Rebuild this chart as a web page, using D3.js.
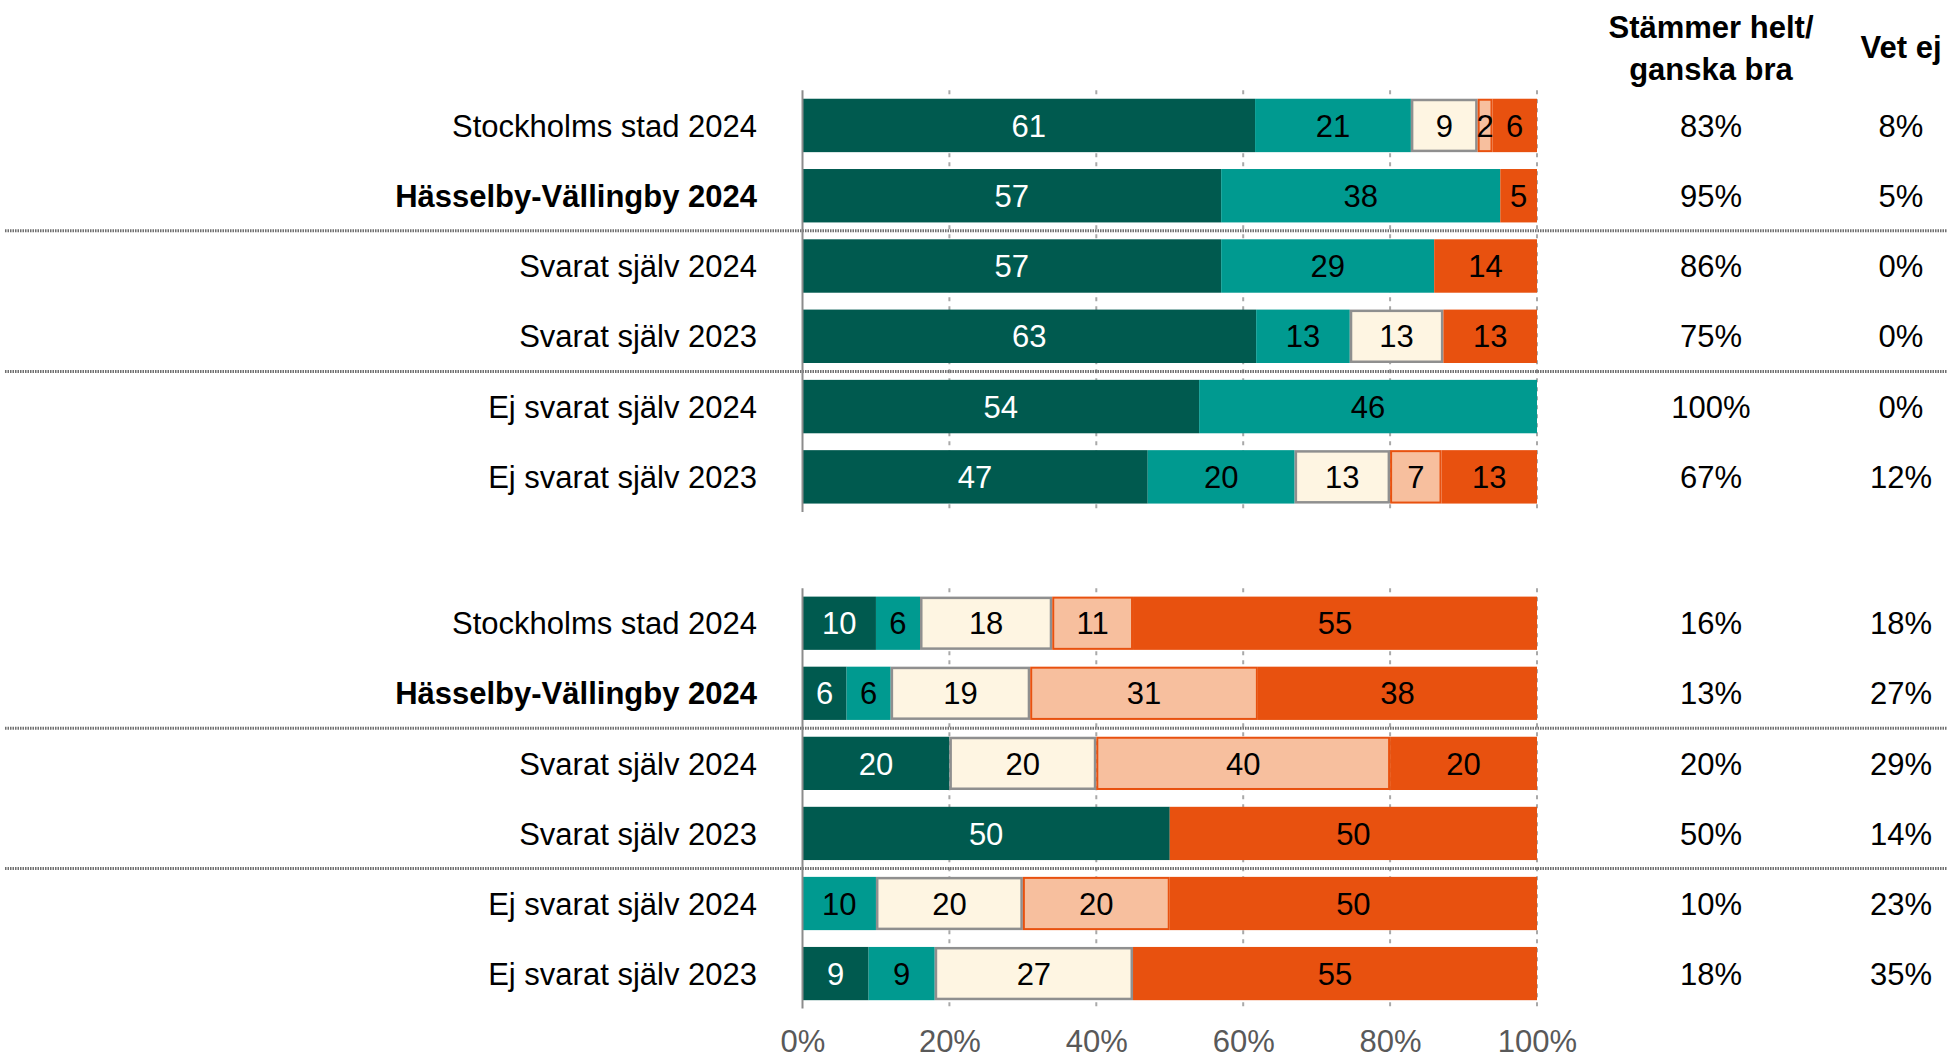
<!DOCTYPE html>
<html>
<head>
<meta charset="utf-8">
<script src="https://cdn.jsdelivr.net/npm/d3@7"></script>
<style>
  html, body { margin: 0; padding: 0; background: #ffffff; }
  svg { display: block; font-family: "Liberation Sans", Arial, sans-serif; }
</style>
</head>
<body>
<svg id="chart" width="1947" height="1061"></svg>
<script>
// Row labels (same for both question blocks)
const rowLabels = [
  "Stockholms stad 2024",
  "Hässelby-Vällingby 2024",
  "Svarat själv 2024",
  "Svarat själv 2023",
  "Ej svarat själv 2024",
  "Ej svarat själv 2023"
];
const boldRow = "Hässelby-Vällingby 2024";

// Answer categories, from most positive to most negative
const answerKeys = ["heltBra", "ganskaBra", "varken", "ganskaDaligt", "heltDaligt"];

// Block 1 values (percent)
const top_heltBra      = [61, 57, 57, 63, 54, 47];
const top_ganskaBra    = [21, 38, 29, 13, 46, 20];
const top_varken       = [9, 0, 0, 13, 0, 13];
const top_ganskaDaligt = [2, 0, 0, 0, 0, 7];
const top_heltDaligt   = [6, 5, 14, 13, 0, 13];
const top_agree        = ["83%", "95%", "86%", "75%", "100%", "67%"];
const top_dontKnow     = ["8%", "5%", "0%", "0%", "0%", "12%"];

// Block 2 values (percent)
const bot_heltBra      = [10, 6, 20, 50, 0, 9];
const bot_ganskaBra    = [6, 6, 0, 0, 10, 9];
const bot_varken       = [18, 19, 20, 0, 20, 27];
const bot_ganskaDaligt = [11, 31, 40, 0, 20, 0];
const bot_heltDaligt   = [55, 38, 20, 50, 50, 55];
const bot_agree        = ["16%", "13%", "20%", "50%", "10%", "18%"];
const bot_dontKnow     = ["18%", "27%", "29%", "14%", "23%", "35%"];

// Axis ticks
const tickValues = [0, 0.2, 0.4, 0.6, 0.8, 1];

// Colours per answer category
const fillColor = {
  heltBra: "#005a4f",
  ganskaBra: "#009a90",
  varken: "#fef5e2",
  ganskaDaligt: "#f7bf9e",
  heltDaligt: "#e8510f"
};
const strokeColor = {
  varken: "#8f8f8f",
  ganskaDaligt: "#e8510f"
};
const labelColor = {
  heltBra: "#ffffff",
  ganskaBra: "#000000",
  varken: "#000000",
  ganskaDaligt: "#000000",
  heltDaligt: "#000000"
};

function buildRows(h, g, v, gd, hd) {
  return rowLabels.map((label, i) => ({
    label,
    heltBra: h[i], ganskaBra: g[i], varken: v[i], ganskaDaligt: gd[i], heltDaligt: hd[i]
  }));
}

const blocks = [
  {
    rows: buildRows(top_heltBra, top_ganskaBra, top_varken, top_ganskaDaligt, top_heltDaligt),
    agree: top_agree, dontKnow: top_dontKnow,
    range: [90.3, 512.0]
  },
  {
    rows: buildRows(bot_heltBra, bot_ganskaBra, bot_varken, bot_ganskaDaligt, bot_heltDaligt),
    agree: bot_agree, dontKnow: bot_dontKnow,
    range: [588.2, 1008.6]
  }
];

const svg = d3.select("#chart");
const FONT = 31;

const x = d3.scaleLinear().domain([0, 1]).range([802.5, 1537]);

const stack = d3.stack().keys(answerKeys).offset(d3.stackOffsetExpand);

const colAgreeX = 1711;
const colDontKnowX = 1901;
const labelRightX = 757;

blocks.forEach((block, bi) => {
  const y = d3.scaleBand()
    .domain(rowLabels)
    .range(block.range)
    .paddingInner(0.24)
    .paddingOuter(0.12);

  const g = svg.append("g");

  // Dashed vertical gridlines
  g.append("g")
    .selectAll("line")
    .data(tickValues.slice(1))
    .join("line")
    .attr("x1", d => x(d)).attr("x2", d => x(d))
    .attr("y1", block.range[0]).attr("y2", block.range[1])
    .attr("stroke", "#a9a9a9")
    .attr("stroke-width", 2)
    .attr("stroke-dasharray", "4,5");

  // Group separators (dotted, across the full width)
  [1, 3].forEach(i => {
    const yy = (y(rowLabels[i]) + y.bandwidth() + y(rowLabels[i + 1])) / 2;
    g.append("line")
      .attr("x1", 5).attr("x2", 1947)
      .attr("y1", yy).attr("y2", yy)
      .attr("stroke", "#6f6f6f")
      .attr("stroke-width", 3)
      .attr("stroke-dasharray", "1.5,1");
  });

  const series = stack(block.rows);

  // Stacked bar segments
  const layer = g.append("g")
    .selectAll("g")
    .data(series)
    .join("g");

  layer.selectAll("rect")
    .data(s => s.map(d => ({ key: s.key, d })).filter(o => o.d.data[o.key] > 0))
    .join("rect")
    .each(function (o) {
      const sw = o.key === "varken" ? 2.5 : (o.key === "ganskaDaligt" ? 2 : 0);
      const x0 = x(o.d[0]), x1 = x(o.d[1]);
      d3.select(this)
        .attr("x", x0 + sw / 2)
        .attr("y", y(o.d.data.label) + sw / 2)
        .attr("width", Math.max(0, x1 - x0 - sw))
        .attr("height", y.bandwidth() - sw)
        .attr("fill", fillColor[o.key])
        .attr("stroke", sw ? strokeColor[o.key] : "none")
        .attr("stroke-width", sw);
    });

  // Segment value labels
  layer.selectAll("text")
    .data(s => s.map(d => ({ key: s.key, d })).filter(o => o.d.data[o.key] > 0))
    .join("text")
    .attr("x", o => (x(o.d[0]) + x(o.d[1])) / 2)
    .attr("y", o => y(o.d.data.label) + y.bandwidth() / 2)
    .attr("dy", "0.36em")
    .attr("text-anchor", "middle")
    .attr("font-size", FONT)
    .attr("fill", o => labelColor[o.key])
    .text(o => o.d.data[o.key]);

  // Left axis line
  g.append("line")
    .attr("x1", x(0)).attr("x2", x(0))
    .attr("y1", block.range[0]).attr("y2", block.range[1])
    .attr("stroke", "#8c8c8c")
    .attr("stroke-width", 2);

  // Row labels
  g.append("g")
    .selectAll("text")
    .data(rowLabels)
    .join("text")
    .attr("x", labelRightX)
    .attr("y", d => y(d) + y.bandwidth() / 2)
    .attr("dy", "0.36em")
    .attr("text-anchor", "end")
    .attr("font-size", FONT)
    .attr("font-weight", d => d === boldRow ? "bold" : "normal")
    .attr("fill", "#000")
    .text(d => d);

  // Summary columns
  g.append("g")
    .selectAll("text")
    .data(block.agree)
    .join("text")
    .attr("x", colAgreeX)
    .attr("y", (d, i) => y(rowLabels[i]) + y.bandwidth() / 2)
    .attr("dy", "0.36em")
    .attr("text-anchor", "middle")
    .attr("font-size", FONT)
    .attr("fill", "#000")
    .text(d => d);

  g.append("g")
    .selectAll("text")
    .data(block.dontKnow)
    .join("text")
    .attr("x", colDontKnowX)
    .attr("y", (d, i) => y(rowLabels[i]) + y.bandwidth() / 2)
    .attr("dy", "0.36em")
    .attr("text-anchor", "middle")
    .attr("font-size", FONT)
    .attr("fill", "#000")
    .text(d => d);
});

// Bottom percentage axis
const xAxis = d3.axisBottom(x)
  .tickValues(tickValues)
  .tickFormat(d3.format(".0%"))
  .tickSize(0)
  .tickPadding(0);

const axisG = svg.append("g")
  .attr("transform", "translate(0,1030)")
  .call(xAxis);
axisG.select(".domain").remove();
axisG.selectAll("text")
  .attr("font-size", FONT)
  .attr("font-family", "'Liberation Sans', Arial, sans-serif")
  .attr("fill", "#595959")
  .attr("dy", "0.71em");

// Column headers
const header = svg.append("g")
  .attr("font-size", FONT)
  .attr("font-weight", "bold")
  .attr("text-anchor", "middle")
  .attr("fill", "#000");
header.append("text").attr("x", colAgreeX).attr("y", 38).text("Stämmer helt/");
header.append("text").attr("x", colAgreeX).attr("y", 80).text("ganska bra");
header.append("text").attr("x", colDontKnowX).attr("y", 58).text("Vet ej");
</script>
</body>
</html>
